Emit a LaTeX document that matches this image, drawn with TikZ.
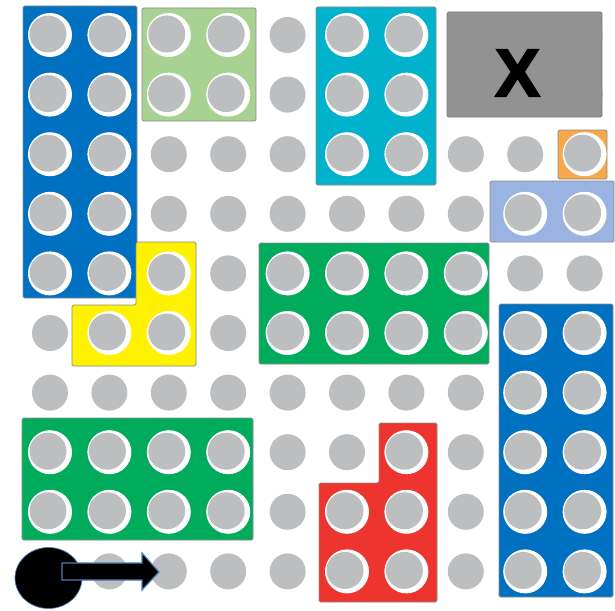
\documentclass[tikz,border=0pt]{standalone}
\usepackage{fontspec}
\setmainfont{Liberation Sans}
\newfontfamily\heavyX{Liberation Sans}[BoldFeatures={FakeBold=2.5}]
\begin{document}
\begin{tikzpicture}[x=1pt,y=-1pt]
\definecolor{studgray}{RGB}{188,190,191}
\definecolor{edgegray}{RGB}{140,140,140}
\definecolor{dkblue}{RGB}{0,112,192}
\definecolor{ltgreen}{RGB}{167,210,145}
\definecolor{cyanb}{RGB}{0,178,204}
\definecolor{boxgray}{RGB}{146,146,146}
\definecolor{orangeb}{RGB}{248,168,76}
\definecolor{periw}{RGB}{155,179,224}
\definecolor{yellowb}{RGB}{255,242,0}
\definecolor{greenb}{RGB}{0,172,92}
\definecolor{redb}{RGB}{237,52,47}
\definecolor{outblue}{RGB}{74,126,187}
\tikzset{
  brick/.style={draw=edgegray, line width=0.9pt, rounded corners=1.5pt},
  plainstud/.style={fill=studgray},
}
\newcommand\bstud[2]{%
  \fill[white] ({50+59.4*(#1-1)},{35+59.6*(#2-1)}) circle[radius=22pt];
  \fill[studgray] ({48+59.4*(#1-1)},{34+59.6*(#2-1)}) circle[radius=18.5pt];}
\useasboundingbox (0,0) rectangle (615,610);
\fill[white] (0,0) rectangle (615,610);
% plain studs
\foreach \c in {1,...,10}{
  \foreach \r in {1,...,10}{
    \fill[plainstud] ({50+59.4*(\c-1)},{35+59.6*(\r-1)}) circle[radius=18pt];
  }
}
% left tall blue
\draw[brick,fill=dkblue] (23,6) rectangle (137,298);
\foreach \c in {1,2}{\foreach \r in {1,...,5}{\bstud{\c}{\r}}}
% light green
\draw[brick,fill=ltgreen] (142,8) rectangle (256,121);
\foreach \c in {3,4}{\foreach \r in {1,2}{\bstud{\c}{\r}}}
% cyan
\draw[brick,fill=cyanb] (316,7) rectangle (436,185);
\foreach \c in {6,7}{\foreach \r in {1,2,3}{\bstud{\c}{\r}}}
% gray X box
\draw[brick,fill=boxgray,draw=boxgray!85!black] (447,12) rectangle (602,117);
\node[font=\heavyX\fontsize{68}{68}\selectfont\bfseries, text=black, inner sep=0pt] (xmark) at (517.5,73) {X};
% orange
\draw[brick,fill=orangeb] (558,130) rectangle (607,179);
\bstud{10}{3}
% periwinkle
\draw[brick,fill=periw] (490,181) rectangle (614,242);
\foreach \c in {9,10}{\bstud{\c}{4}}
% yellow L
\draw[brick,fill=yellowb] (136,242) -- (196,242) -- (196,366) -- (72,366) -- (72,305) -- (136,305) -- cycle;
\bstud{3}{5}\bstud{2}{6}\bstud{3}{6}
% middle green
\draw[brick,fill=greenb] (259,243) rectangle (489,364);
\foreach \c in {5,...,8}{\foreach \r in {5,6}{\bstud{\c}{\r}}}
% lower-left green
\draw[brick,fill=greenb] (22,418) rectangle (253,540);
\foreach \c in {1,...,4}{\foreach \r in {8,9}{\bstud{\c}{\r}}}
% red L
\draw[brick,fill=redb] (379,423) -- (437,423) -- (437,602) -- (319,602) -- (319,483) -- (379,483) -- cycle;
\bstud{7}{8}\bstud{6}{9}\bstud{7}{9}\bstud{6}{10}\bstud{7}{10}
% right tall blue
\draw[brick,fill=dkblue] (499,304) rectangle (613,597);
\foreach \c in {9,10}{\foreach \r in {6,...,10}{\bstud{\c}{\r}}}
% robot and arrow
\draw[fill=black, draw=outblue, line width=0.7pt] (48.5,578) ellipse[x radius=33.5pt, y radius=30.5pt];
\draw[fill=black, draw=outblue, line width=1.2pt, line join=miter]
  (62,563) -- (142,563) -- (142,553) -- (159,572) -- (142,590) -- (142,580) -- (62,580) -- cycle;
\end{tikzpicture}
\end{document}
